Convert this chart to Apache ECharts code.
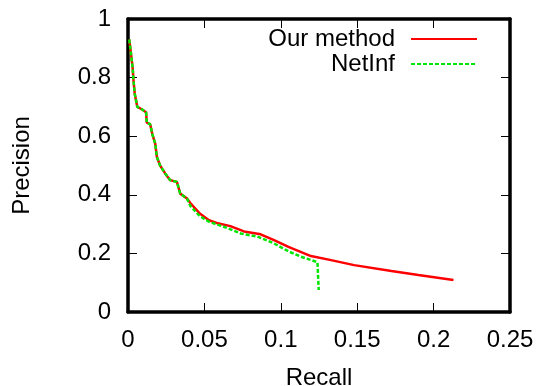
<!DOCTYPE html>
<html>
<head>
<meta charset="utf-8">
<script src="https://cdn.jsdelivr.net/npm/echarts@6/dist/echarts.min.js"></script>
<style>html,body{margin:0;padding:0;background:#fff;}#c{width:538px;height:386px;}</style>
</head>
<body>
<div id="c"></div>
<script>
const xTicks = [0, 0.05, 0.1, 0.15, 0.2, 0.25];
const yTicks = [0, 0.2, 0.4, 0.6, 0.8, 1];
const seriesNames = ['Our method', 'NetInf'];

const ourRecall = [0.0008,0.002,0.0031,0.0035,0.0044,0.0057,0.0061,0.009,0.0118,0.0123,0.0145,0.016,0.0178,0.0189,0.021,0.0243,0.0276,0.032,0.0342,0.0386,0.0408,0.047,0.053,0.058,0.067,0.0759,0.0868,0.0956,0.105,0.1197,0.1329,0.148,0.1724,0.190,0.213];
const ourPrecision = [0.93,0.88,0.83,0.796,0.745,0.739,0.70,0.692,0.682,0.646,0.641,0.605,0.575,0.529,0.500,0.473,0.450,0.444,0.404,0.387,0.372,0.336,0.313,0.304,0.293,0.275,0.265,0.245,0.222,0.191,0.177,0.160,0.140,0.126,0.109];

const netRecall = [0.0008,0.002,0.0031,0.0035,0.0044,0.0057,0.0061,0.009,0.0118,0.0123,0.0145,0.016,0.0178,0.0189,0.021,0.0243,0.0276,0.032,0.0342,0.0386,0.0408,0.047,0.053,0.0627,0.0737,0.0847,0.0956,0.105,0.113,0.124,0.1248,0.1248];
const netPrecision = [0.93,0.88,0.83,0.796,0.745,0.739,0.70,0.692,0.682,0.646,0.641,0.605,0.575,0.529,0.500,0.473,0.450,0.444,0.404,0.387,0.362,0.327,0.308,0.291,0.268,0.257,0.234,0.207,0.189,0.170,0.168,0.075];

const zip = (a, b) => a.map((v, i) => [v, b[i]]);
const FONT = "'Liberation Sans', Arial, sans-serif";
const frame = {show: true, onZero: false, lineStyle: {color: '#000', width: 3.5}};
const tick = {show: true, inside: true, length: 9, lineStyle: {color: '#000', width: 1}};
const legendBase = {right: 60, align: 'right', orient: 'vertical', padding: 0,
  itemWidth: 66, itemHeight: 14, itemStyle: {opacity: 0},
  textStyle: {fontSize: 24, color: '#000', fontFamily: FONT, padding: [0, 11, 0, 0]}};

const chart = echarts.init(document.getElementById('c'), null, {renderer: 'canvas'});
chart.setOption({
  animation: false,
  backgroundColor: '#fff',
  textStyle: {fontFamily: FONT},
  grid: {left: 128, right: 28, top: 19, bottom: 74, containLabel: false, outerBoundsMode: 'none'},
  legend: [
    Object.assign({}, legendBase, {data: [seriesNames[0]], top: 27}),
    Object.assign({}, legendBase, {data: [seriesNames[1]], top: 52})
  ],
  xAxis: [
    {type: 'value', position: 'bottom', min: xTicks[0], max: xTicks[xTicks.length - 1], interval: 0.05,
     axisLine: frame, axisTick: tick, splitLine: {show: false},
     axisLabel: {fontSize: 24, color: '#000', margin: 16, fontFamily: FONT},
     name: 'Recall', nameLocation: 'middle', nameGap: 54,
     nameTextStyle: {fontSize: 24, color: '#000', fontFamily: FONT}},
    {type: 'value', position: 'top', min: xTicks[0], max: xTicks[xTicks.length - 1], interval: 0.05,
     axisLine: frame, axisTick: tick, splitLine: {show: false}, axisLabel: {show: false}}
  ],
  yAxis: [
    {type: 'value', position: 'left', min: yTicks[0], max: yTicks[yTicks.length - 1], interval: 0.2,
     axisLine: frame, axisTick: tick, splitLine: {show: false},
     axisLabel: {fontSize: 24, color: '#000', margin: 17, fontFamily: FONT, padding: [4, 0, 0, 0]},
     name: 'Precision', nameLocation: 'middle', nameGap: 94,
     nameTextStyle: {fontSize: 24, color: '#000', fontFamily: FONT}},
    {type: 'value', position: 'right', min: yTicks[0], max: yTicks[yTicks.length - 1], interval: 0.2,
     axisLine: frame, axisTick: tick, splitLine: {show: false}, axisLabel: {show: false}}
  ],
  series: [
    {name: seriesNames[0], type: 'line', symbol: 'none', data: zip(ourRecall, ourPrecision),
     itemStyle: {color: '#ff0000'}, lineStyle: {color: '#ff0000', width: 2.5}},
    {name: seriesNames[1], type: 'line', symbol: 'none', data: zip(netRecall, netPrecision),
     itemStyle: {color: '#00e600'}, lineStyle: {color: '#00e600', width: 2.5, type: [4, 2]}}
  ]
});
</script>
</body>
</html>
